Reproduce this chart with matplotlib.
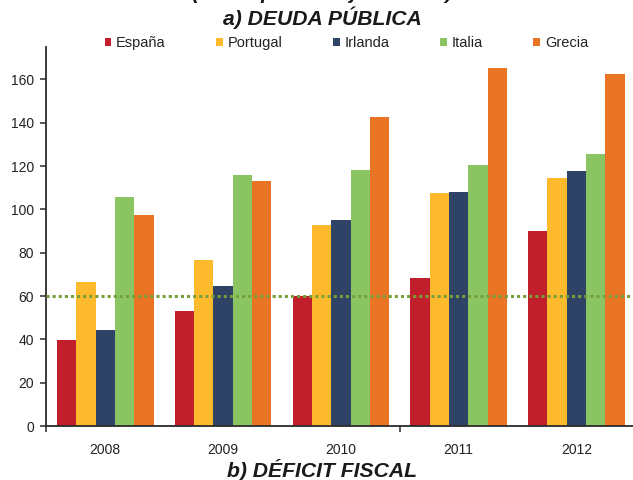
import matplotlib
matplotlib.use("Agg")
import matplotlib.pyplot as plt
import numpy as np

plt.rcParams['font.family'] = ['Liberation Sans', 'DejaVu Sans']

years = ["2008", "2009", "2010", "2011", "2012"]
series_names = ["España", "Portugal", "Irlanda", "Italia", "Grecia"]
espana = [39.9, 53.2, 60.2, 68.5, 90.0]
portugal = [66.6, 76.8, 92.9, 107.6, 114.6]
irlanda = [44.3, 64.8, 95.2, 108.2, 117.6]
italia = [105.8, 116.0, 118.3, 120.3, 125.6]
grecia = [97.5, 113.0, 142.7, 165.2, 162.5]
reference_level = 60
colors = ["#C11F2B", "#FDBA2C", "#2E4366", "#8BC563", "#E87424"]

values = [espana, portugal, irlanda, italia, grecia]

fig = plt.figure(figsize=(6.33, 4.8), dpi=100)
ax = fig.add_axes([46.4/633, 1-426/480, (635.3-46.4)/633, (426-47)/480])

x = np.arange(len(years))
w = 0.164
for i, (name, vals, c) in enumerate(zip(series_names, values, colors)):
    ax.bar(x + (i - 2) * w, vals, width=w, color=c, label=name, zorder=2, linewidth=0)

ax.axhline(reference_level, color="#77A03A", linewidth=2.2, linestyle=(0, (1, 1)),
           zorder=3, dash_capstyle='butt')

ax.set_xlim(-0.5, 4.5)
ax.set_ylim(0, 175)
ax.set_yticks(np.arange(0, 161, 20))
ax.set_xticks(x)
ax.set_xticklabels(years)
ax.set_xticks([-0.5, 2.5], minor=True)

for s in ["top", "right"]:
    ax.spines[s].set_visible(False)
for s in ["left", "bottom"]:
    ax.spines[s].set_color("#2a2a2a")
    ax.spines[s].set_linewidth(1.3)

ax.tick_params(axis='y', direction='out', length=4, width=1.1, color="#2a2a2a",
               labelsize=10, labelcolor="#222222", pad=5)
ax.tick_params(axis='x', which='major', length=0, labelsize=10, labelcolor="#222222", pad=12)
ax.tick_params(axis='x', which='minor', direction='out', length=4, width=1.1, color="#2a2a2a")

leg = ax.legend(loc='center', bbox_to_anchor=(0.5 + 0.0093, 1 + 4/379), ncol=5, frameon=False,
                fontsize=10.5, handlelength=0.45, handleheight=0.45, handletextpad=0.35,
                columnspacing=3.45, borderaxespad=0, borderpad=0)
for t in leg.get_texts():
    t.set_color("#222222")

fig.text(322/633, 1.002, "(como porcentaje del PIB)", ha='center', va='baseline',
         fontsize=15.2, fontweight='bold', fontstyle='italic', color="#1a1a1a")
fig.text(322/633, 1-25/480, "a) DEUDA PÚBLICA", ha='center', va='baseline',
         fontsize=15.2, fontweight='bold', fontstyle='italic', color="#1a1a1a")
fig.text(322/633, 3/480, "b) DÉFICIT FISCAL", ha='center', va='baseline',
         fontsize=15.2, fontweight='bold', fontstyle='italic', color="#1a1a1a")

fig.savefig("out.png", dpi=100)
